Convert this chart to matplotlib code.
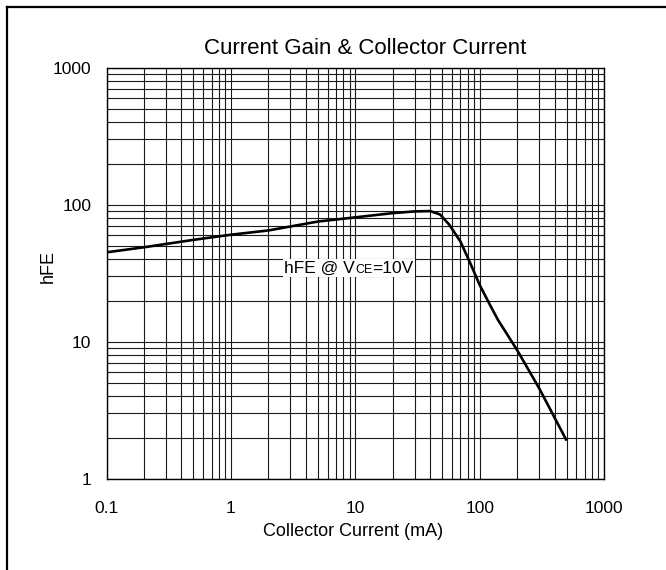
import matplotlib as mpl
mpl.use('Agg')
import matplotlib.pyplot as plt
from matplotlib.lines import Line2D
from matplotlib.offsetbox import TextArea, HPacker, AnnotationBbox

plt.rcParams['font.family'] = ['Liberation Sans', 'DejaVu Sans']

# collector current (mA) vs hFE
ic_ma = [0.1, 0.2, 0.5, 1, 2, 5, 10, 20, 30, 40, 48, 57, 70, 84, 100, 121, 140, 200, 300, 500]
hfe = [45, 49, 55.5, 60.5, 65, 75.5, 81, 87, 89.5, 90, 85, 71.5, 54, 37.5, 26, 18.6, 14.5, 8.7, 4.6, 1.9]

x_ticks = [0.1, 1, 10, 100, 1000]
x_tick_labels = ['0.1', '1', '10', '100', '1000']
y_ticks = [1, 10, 100, 1000]
y_tick_labels = ['1', '10', '100', '1000']

fig = plt.figure(figsize=(6.66, 5.7), dpi=100)
ax = fig.add_axes([0.160, 0.160, 0.747, 0.721])

ax.set_xscale('log')
ax.set_yscale('log')
ax.set_xlim(0.1, 1000)
ax.set_ylim(1, 1000)

ax.grid(True, which='both', color='#1a1a1a', lw=0.8)
ax.set_axisbelow(True)

ax.plot(ic_ma, hfe, color='black', lw=1.9, solid_capstyle='butt')

ax.set_xticks(x_ticks)
ax.set_xticklabels(x_tick_labels)
ax.set_yticks(y_ticks)
ax.set_yticklabels(y_tick_labels)
ax.tick_params(which='both', length=0)
ax.tick_params(axis='x', pad=16, labelsize=12.5)
ax.tick_params(axis='y', pad=11, labelsize=12.5)
for s in ax.spines.values():
  s.set_linewidth(1.0)

ax.text(0.519, 1.034, 'Current Gain & Collector Current', transform=ax.transAxes,
        ha='center', va='baseline', fontsize=16)
ax.text(0.495, -0.140, 'Collector Current (mA)', transform=ax.transAxes,
        ha='center', va='baseline', fontsize=13)
ax.text(-0.118, 0.516, 'hFE', transform=ax.transAxes, rotation=90,
        ha='center', va='center', fontsize=13)

# curve label with small CE
parts = [TextArea('hFE @ V', textprops=dict(fontsize=12.5)),
         TextArea('CE', textprops=dict(fontsize=9)),
         TextArea('=10V', textprops=dict(fontsize=12.5))]
box = HPacker(children=parts, align='baseline', pad=0, sep=0)
ab = AnnotationBbox(box, (8.9, 34.5), xycoords='data', frameon=True,
                    pad=0.1, bboxprops=dict(facecolor='white', edgecolor='none'))
ax.add_artist(ab)

# frame lines (left and top only)
fig.add_artist(Line2D([7 / 666, 7 / 666], [0, 1 - 7 / 570], color='black', lw=1.6,
                      transform=fig.transFigure))
fig.add_artist(Line2D([7 / 666, 1], [1 - 7 / 570, 1 - 7 / 570], color='black', lw=1.6,
                      transform=fig.transFigure))

plt.savefig('out.png', dpi=100)
